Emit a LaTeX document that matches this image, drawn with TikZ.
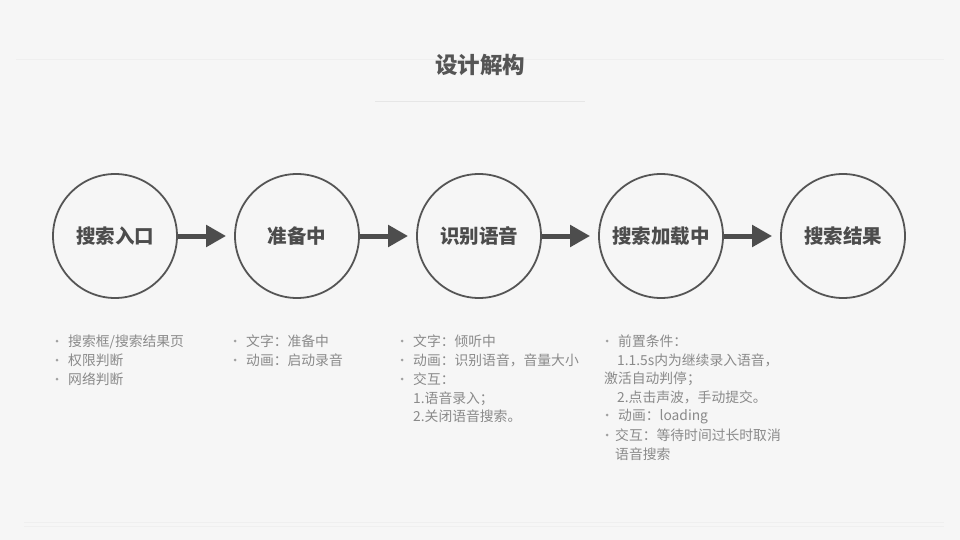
\documentclass[tikz,border=0pt]{standalone}
\usepackage{fontspec}
\setmainfont{Noto Sans CJK SC}
\usetikzlibrary{arrows.meta}
\definecolor{bg}{HTML}{F6F6F6}
\definecolor{ink}{HTML}{555555}
\definecolor{arrowc}{HTML}{4D4D4D}
\definecolor{listc}{HTML}{8A8A8A}
\definecolor{rulec}{HTML}{E6E6E6}
\definecolor{faint}{HTML}{EFEFEF}
\tikzset{
  stage/.style={circle, draw=ink, line width=1.8pt, minimum size=124pt, inner sep=0pt,
    text=ink!90!black, font=\fontsize{19.5}{22}\selectfont\bfseries},
  flow/.style={draw=arrowc, line width=5pt, -{Triangle[length=20pt,width=21pt]}, shorten >=8pt},
  item/.style={anchor=base west, inner sep=0pt, text=listc, font=\fontsize{13.8}{19}\selectfont},
  dot/.style={fill=listc!80}
}
\begin{document}
\begin{tikzpicture}[x=1pt,y=-1pt]
\fill[bg] (0,0) rectangle (960,540);
\useasboundingbox (0,0) rectangle (960,540);
% faint frame lines
\draw[faint, line width=1pt] (16,60) -- (944,60);
\draw[faint, line width=1pt] (24,522) -- (944,522);
\draw[faint, line width=1pt] (24,526) -- (944,526);
% title
\node[text=ink, font=\fontsize{22.5}{25}\selectfont\bfseries] (title) at (480,65) {设计解构};
\draw[rulec, line width=1pt] (375,102) -- (585,102);
% stages
\node[stage] (s1) at (115,236) {搜索入口};
\node[stage] (s2) at (297,236) {准备中};
\node[stage] (s3) at (479,236) {识别语音};
\node[stage] (s4) at (661,236) {搜索加载中};
\node[stage] (s5) at (843,236) {搜索结果};
\draw[flow] (s1) -- (s2);
\draw[flow] (s2) -- (s3);
\draw[flow] (s3) -- (s4);
\draw[flow] (s4) -- (s5);
% list 1
\node[item] (a1) at (68,346) {搜索框/搜索结果页};
\node[item] (a2) at (68,365) {权限判断};
\node[item] (a3) at (68,384) {网络判断};
\foreach \y in {341,360,379} \fill[dot] (57,\y) circle (1.5);
% list 2
\node[item] (b1) at (246,346) {文字：准备中};
\node[item] (b2) at (246,365) {动画：启动录音};
\foreach \y in {341,360} \fill[dot] (235,\y) circle (1.5);
% list 3
\node[item] (c1) at (413,346) {文字：倾听中};
\node[item] (c2) at (413,365) {动画：识别语音，音量大小};
\node[item] (c3) at (413,384) {交互：};
\node[item] (c4) at (413,403) {1.语音录入；};
\node[item] (c5) at (413,421) {2.关闭语音搜索。};
\foreach \y in {341,360,379} \fill[dot] (402,\y) circle (1.5);
% list 4
\node[item] (d1) at (618,346) {前置条件：};
\node[item] (d2) at (617,365) {1.1.5s内为继续录入语音，};
\node[item] (d3) at (604,383) {激活自动判停；};
\node[item] (d4) at (617,402) {2.点击声波，手动提交。};
\node[item] (d5) at (618,420) {动画：loading};
\node[item] (d6) at (615,440) {交互：等待时间过长时取消};
\node[item] (d7) at (615,459) {语音搜索};
\foreach \y in {341,415,435} \fill[dot] (607,\y) circle (1.5);
\end{tikzpicture}
\end{document}
